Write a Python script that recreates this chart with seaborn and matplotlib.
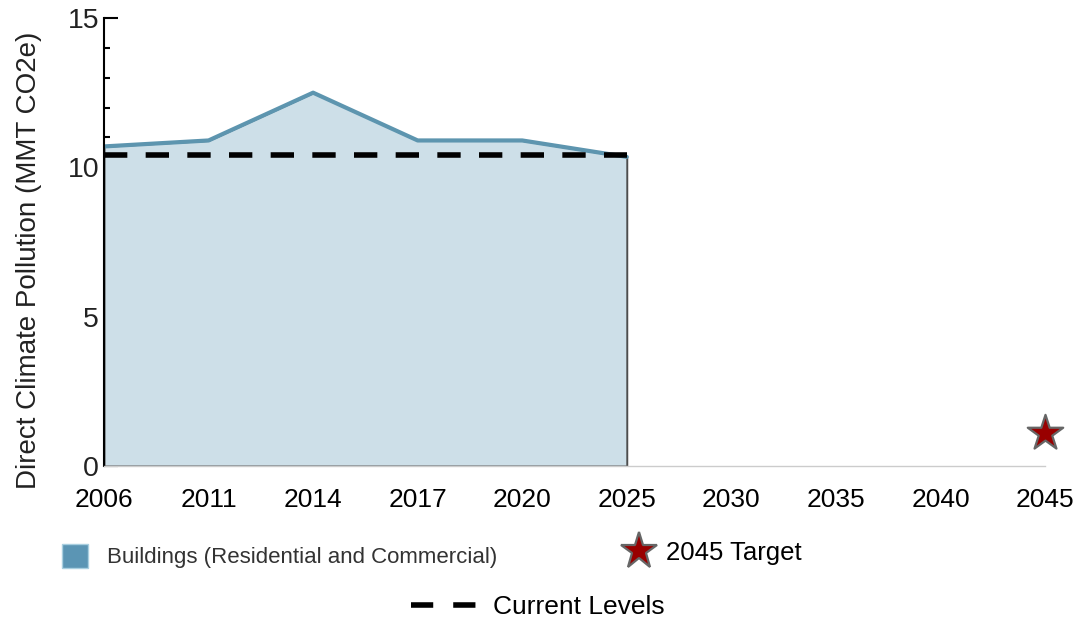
import numpy as np
import pandas as pd
import matplotlib
matplotlib.use('Agg')
import matplotlib.pyplot as plt
import seaborn as sns
from matplotlib.patches import Patch
from matplotlib.lines import Line2D

# data
years = ['2006', '2011', '2014', '2017', '2020', '2025', '2030', '2035', '2040', '2045']
buildings = [10.7, 10.9, 12.5, 10.9, 10.9, 10.35]
current_level = 10.4
target_year = '2045'
target_value = 1.1

sector_label = 'Buildings (Residential and Commercial)'
target_label = '2045 Target'
current_label = 'Current Levels'
y_label = 'Direct Climate Pollution (MMT CO2e)'

line_color = '#5d95af'
fill_color = '#cddfe8'
patch_color = '#5b95b4'
star_color = '#990000'

sns.set_theme(style='white')
plt.rcParams['font.family'] = ['Liberation Sans', 'DejaVu Sans']

df = pd.DataFrame({'pos': np.arange(len(buildings)), 'value': buildings})
target_pos = years.index(target_year)

fig = plt.figure(figsize=(10.81, 6.19), dpi=100)
ax = fig.add_axes([0.0962, 0.2472, 0.8705, 0.7237])

ax.fill_between(df['pos'], df['value'], 0, facecolor=fill_color,
                edgecolor='#4d4d4d', linewidth=1.4, zorder=1)
sns.lineplot(data=df, x='pos', y='value', ax=ax, color=line_color,
             linewidth=3, zorder=2)
ax.plot([df['pos'].iloc[0], df['pos'].iloc[-1]], [current_level] * 2,
        color='black', linewidth=4, linestyle=(0, (4.2, 3.3)), zorder=3)
sns.scatterplot(x=[target_pos], y=[target_value], ax=ax, marker='*', s=720,
                color=star_color, edgecolor='#666666', linewidth=1.6,
                zorder=4, clip_on=False)

ax.set_xlim(0, len(years) - 1)
ax.set_ylim(0, 15)
ax.set_xlabel('')
ax.set_ylabel(y_label, fontsize=20, color='#222222')
ax.yaxis.set_label_coords(-0.066, 0.46)

# history ticks point in, future ticks point out
ax.set_xticks(range(len(buildings)))
ax.set_xticklabels(years[:len(buildings)])
ax.set_xticks(range(len(buildings), len(years)), minor=True)
ax.set_xticklabels(years[len(buildings):], minor=True)
ax.tick_params(axis='x', which='major', direction='in', length=6, width=1.5,
               labelsize=19, pad=16, color='black', labelcolor='black')
ax.tick_params(axis='x', which='minor', direction='out', length=5, width=1.5,
               labelsize=19, pad=11, color='black', labelcolor='black')

ax.set_yticks([0, 5, 10, 15])
ax.set_yticks(range(0, 16), minor=True)
ax.tick_params(axis='y', which='major', direction='in', length=10, width=1.5,
               labelsize=20.5, pad=3.5, left=True, color='black',
               labelcolor='#222222')
ax.tick_params(axis='y', which='minor', direction='in', length=4.5, width=1.5,
               left=True, color='black')

for side in ['top', 'right']:
    ax.spines[side].set_visible(False)
ax.spines['left'].set_color('black')
ax.spines['left'].set_linewidth(1.5)
ax.spines['bottom'].set_color('#cccccc')
ax.spines['bottom'].set_linewidth(1)

h1 = [Patch(facecolor=patch_color, edgecolor='#a9cfe0', linewidth=1)]
fig.legend(h1, [sector_label], loc='center left', bbox_to_anchor=(0.0389, 0.1018),
           frameon=False, fontsize=16, handlelength=1.17, handleheight=1.3,
           handletextpad=0.85, labelcolor='#333333')

h2 = [Line2D([], [], marker='*', markersize=28, color=star_color,
             markeredgecolor='#666666', markeredgewidth=1.6, linestyle='none')]
fig.legend(h2, [target_label], loc='center left', bbox_to_anchor=(0.5555, 0.1066),
           frameon=False, fontsize=18.5, handlelength=1.2, handletextpad=0.45,
           labelcolor='black')

h3 = [Line2D([], [], color='black', linewidth=4, linestyle=(0, (4, 3.6)))]
fig.legend(h3, [current_label], loc='center left', bbox_to_anchor=(0.358, 0.019),
           frameon=False, fontsize=19, handlelength=2.46, handletextpad=0.65,
           labelcolor='black')

fig.savefig('out.png', dpi=100)
